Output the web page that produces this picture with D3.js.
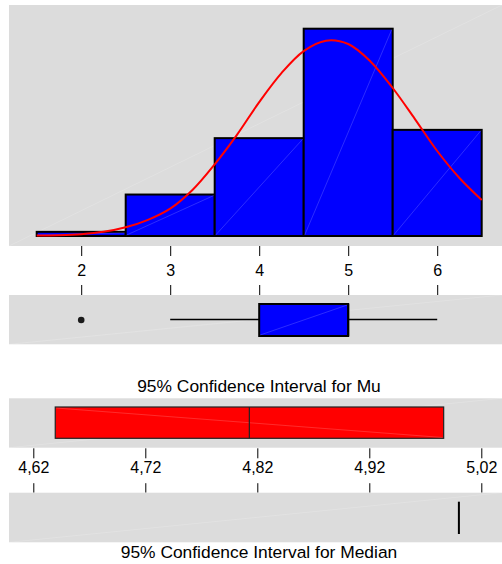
<!DOCTYPE html>
<html>
<head>
<meta charset="utf-8">
<script src="https://cdn.jsdelivr.net/npm/d3@7"></script>
<style>
  body { margin: 0; background: #fff; }
  text { font-family: "Liberation Sans", Arial, sans-serif; fill: #000; }
</style>
</head>
<body>
<div id="summary"></div>
<script>
// histogram bins (edges) and counts
var binEdges = [1.5, 2.5, 3.5, 4.5, 5.5, 6.5];
var binCounts = [1.0, 10.0, 23.6, 50.0, 25.6];
var histTicks = [2, 3, 4, 5, 6];

// fitted normal curve
var curveX = [1.5, 1.75, 2.0, 2.25, 2.5, 2.75, 3.0, 3.25, 3.5, 3.75, 4.0, 4.25, 4.5,
              4.75, 5.0, 5.25, 5.5, 5.75, 6.0, 6.25, 6.5];
var curveY = [0.1, 0.2, 0.45, 1.0, 2.1, 3.9, 6.6, 11.1, 17.3, 24.4, 32.3, 39.3, 44.6,
              47.1, 46.3, 42.1, 35.7, 28.2, 20.5, 14.0, 8.7];

// boxplot: whisker low, Q1, median, Q3, whisker high
var boxStats = [3, 4, 5, 5, 6];
var outliers = [2];

// confidence intervals
var muCI = [4.6396, 4.9864];
var muMean = 4.8129;
var medianCI = [5.0, 5.0];
var ciTicks = [4.62, 4.72, 4.82, 4.92, 5.02];

var width = 502, height = 564;
var grey = "#dcdcdc";

var svg = d3.select("#summary")
  .append("svg")
    .attr("width", width)
    .attr("height", height);

// faint diagonal seen on every filled rectangle
function diag(x0, y0, x1, y1) {
  svg.append("line")
    .attr("x1", x0).attr("y1", y0)
    .attr("x2", x1).attr("y2", y1)
    .attr("stroke", "#fff")
    .attr("stroke-opacity", 0.25)
    .attr("stroke-width", 0.7);
}

function panel(top, bottom) {
  svg.append("rect")
    .attr("x", 9).attr("y", top)
    .attr("width", width - 9).attr("height", bottom - top)
    .attr("fill", grey);
  diag(9, bottom, width, top);
}

// scales
var x = d3.scaleLinear()
  .domain([1.5, 6.5])
  .range([36.7, 481.7]);

var y = d3.scaleLinear()
  .domain([0, 50])
  .range([236, 28.7]);

var xc = d3.scaleLinear()
  .domain([4.62, 5.02])
  .range([33.3, 481.3]);

var commaFmt = d3.formatLocale({decimal: ",", thousands: ".", grouping: [3], currency: ["", ""]})
  .format(".2f");

// ---- histogram panel
panel(5, 246);

var bins = binCounts.map(function(c, i) { return {x0: binEdges[i], x1: binEdges[i + 1], n: c}; });

svg.append("g")
  .selectAll("rect")
  .data(bins)
  .enter()
  .append("rect")
    .attr("x", d => x(d.x0))
    .attr("y", d => y(d.n))
    .attr("width", d => x(d.x1) - x(d.x0))
    .attr("height", d => y(0) - y(d.n))
    .attr("fill", "#0000ff")
    .attr("stroke", "#000")
    .attr("stroke-width", 2);

bins.forEach(function(d) { diag(x(d.x0) + 1, y(0) - 1, x(d.x1) - 1, y(d.n) + 1); });

// normal curve
var line = d3.line()
  .x(d => x(d[0]))
  .y(d => y(d[1]))
  .curve(d3.curveCatmullRom.alpha(0.5));

svg.append("path")
  .datum(curveX.map((v, i) => [v, curveY[i]]))
  .attr("d", line)
  .attr("fill", "none")
  .attr("stroke", "#ff0000")
  .attr("stroke-width", 2);

// histogram axis (ticks above and below the labels)
var axB = svg.append("g")
  .attr("transform", "translate(0,246)")
  .call(d3.axisBottom(x).tickValues(histTicks).tickSize(10).tickSizeOuter(0)
    .tickPadding(8.5).tickFormat(d3.format("d")));
var axT = svg.append("g")
  .attr("transform", "translate(0,295)")
  .call(d3.axisTop(x).tickValues(histTicks).tickSize(10).tickSizeOuter(0).tickFormat(""));
[axB, axT].forEach(function(a) {
  a.select(".domain").remove();
  a.selectAll("line").attr("stroke", "#000");
  a.selectAll("text").attr("font-size", "16px").attr("font-family", "Liberation Sans, Arial, sans-serif");
});

// ---- boxplot panel
panel(295, 344.3);

var boxMid = 320;
svg.append("line")
  .attr("x1", x(boxStats[0])).attr("x2", x(boxStats[1]))
  .attr("y1", boxMid - 0.5).attr("y2", boxMid - 0.5)
  .attr("stroke", "#000").attr("stroke-width", 1.6);
svg.append("line")
  .attr("x1", x(boxStats[3])).attr("x2", x(boxStats[4]))
  .attr("y1", boxMid - 0.5).attr("y2", boxMid - 0.5)
  .attr("stroke", "#000").attr("stroke-width", 1.6);
svg.append("rect")
  .attr("x", x(boxStats[1]))
  .attr("y", 304)
  .attr("width", x(boxStats[3]) - x(boxStats[1]))
  .attr("height", 32)
  .attr("fill", "#0000ff")
  .attr("stroke", "#000")
  .attr("stroke-width", 2);
diag(x(boxStats[1]) + 1, 335, x(boxStats[3]) - 1, 305);
svg.append("line")
  .attr("x1", x(boxStats[2])).attr("x2", x(boxStats[2]))
  .attr("y1", 304).attr("y2", 336)
  .attr("stroke", "#000").attr("stroke-width", 2);

svg.append("g")
  .selectAll("circle")
  .data(outliers)
  .enter()
  .append("circle")
    .attr("cx", d => x(d))
    .attr("cy", boxMid)
    .attr("r", 3.3)
    .attr("fill", "#1a1a1a");

// ---- confidence interval for mu
svg.append("text")
  .attr("x", 259)
  .attr("y", 392)
  .attr("text-anchor", "middle")
  .attr("font-size", "17.4px")
  .text("95% Confidence Interval for Mu");

panel(398.3, 447.7);

svg.append("rect")
  .attr("x", xc(muCI[0]))
  .attr("y", 407)
  .attr("width", xc(muCI[1]) - xc(muCI[0]))
  .attr("height", 31.3)
  .attr("fill", "#ff0000")
  .attr("stroke", "#222")
  .attr("stroke-width", 1.2);
diag(xc(muCI[0]) + 1, 408, xc(muCI[1]) - 1, 437.5);
svg.append("line")
  .attr("x1", xc(muMean)).attr("x2", xc(muMean))
  .attr("y1", 407).attr("y2", 438.3)
  .attr("stroke", "#222").attr("stroke-width", 1.2);

// CI axis
var cB = svg.append("g")
  .attr("transform", "translate(0,448.3)")
  .call(d3.axisBottom(xc).tickValues(ciTicks).tickSize(10).tickSizeOuter(0).tickPadding(3.8).tickFormat(commaFmt));
var cT = svg.append("g")
  .attr("transform", "translate(0,492.7)")
  .call(d3.axisTop(xc).tickValues(ciTicks).tickSize(9.5).tickSizeOuter(0).tickFormat(""));
[cB, cT].forEach(function(a) {
  a.select(".domain").remove();
  a.selectAll("line").attr("stroke", "#000");
  a.selectAll("text").attr("font-size", "16px").attr("font-family", "Liberation Sans, Arial, sans-serif");
});

// ---- confidence interval for median
panel(492.7, 542.3);

svg.append("rect")
  .attr("x", xc(medianCI[0]) - 1)
  .attr("y", 501.7)
  .attr("width", xc(medianCI[1]) - xc(medianCI[0]) + 2)
  .attr("height", 32.3)
  .attr("fill", "#000");

svg.append("text")
  .attr("x", 259)
  .attr("y", 557.7)
  .attr("text-anchor", "middle")
  .attr("font-size", "17.4px")
  .text("95% Confidence Interval for Median");
</script>
</body>
</html>
